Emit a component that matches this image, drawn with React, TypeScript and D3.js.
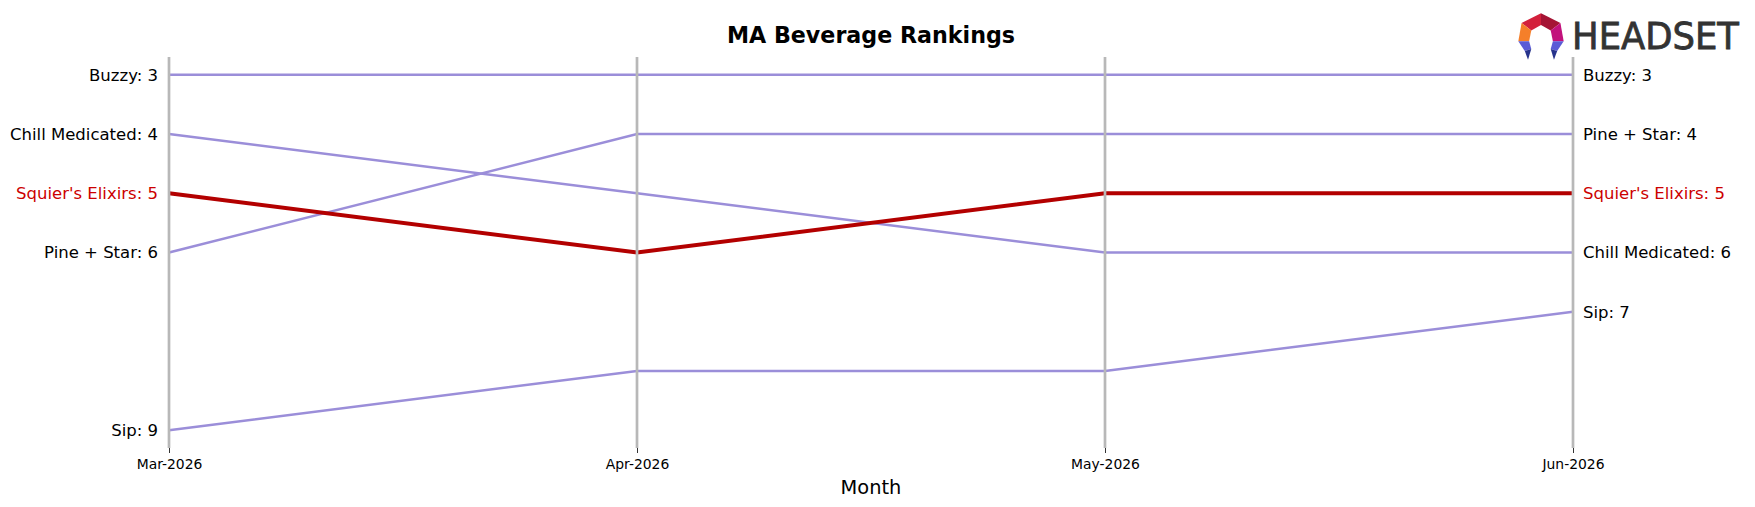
import React, { useEffect, useRef } from "react";
import * as d3 from "d3";

const months = ["Mar-2026", "Apr-2026", "May-2026", "Jun-2026"];
const brands = ["Buzzy", "Chill Medicated", "Squier's Elixirs", "Pine + Star", "Sip"];
const ranks = [
  [3, 3, 3, 3],
  [4, 5, 6, 6],
  [5, 6, 5, 5],
  [6, 4, 4, 4],
  [9, 8, 8, 7],
];
const highlight = "Squier's Elixirs";

const W = 1755;
const H = 507;
const FONT = "DejaVu Sans, sans-serif";

const App = () => {
  const ref = useRef<SVGSVGElement>(null);

  useEffect(() => {
    const svg = d3.select(ref.current);
    svg.selectAll("*").remove();

    const x = d3.scalePoint<string>().domain(months).range([169, 1573]);
    const y = d3.scaleLinear().domain([2.7, 9.3]).range([57, 448]);

    const series = brands.map((name, i) => ({ name, values: ranks[i] }));

    const line = d3
      .line<number>()
      .x((_, i) => x(months[i])!)
      .y((d) => y(d));

    // other brands first, highlighted one on top
    const ordered = [...series].sort(
      (a, b) => +(a.name === highlight) - +(b.name === highlight),
    );

    svg
      .append("g")
      .selectAll("path")
      .data(ordered)
      .join("path")
      .attr("d", (d) => line(d.values))
      .attr("fill", "none")
      .attr("stroke", (d) => (d.name === highlight ? "#b30000" : "#9b8ed9"))
      .attr("stroke-width", (d) => (d.name === highlight ? 4 : 2.5));

    // vertical month lines
    svg
      .append("g")
      .selectAll("line")
      .data(months)
      .join("line")
      .attr("x1", (d) => x(d)!)
      .attr("x2", (d) => x(d)!)
      .attr("y1", y.range()[0])
      .attr("y2", y.range()[1])
      .attr("stroke", "#b8b8b8")
      .attr("stroke-width", 2.7);

    // x axis ticks + labels
    const axis = svg.append("g").attr("transform", `translate(0,${y.range()[1]})`);
    axis
      .call(d3.axisBottom(x).tickSize(5).tickPadding(6))
      .call((g) => g.select(".domain").remove())
      .call((g) =>
        g.selectAll("text").attr("font-family", FONT).attr("font-size", 13.9).attr("fill", "#000"),
      )
      .call((g) => g.selectAll(".tick line").attr("stroke", "#000").attr("stroke-width", 0.8));

    // end labels
    const label = (side: number, anchor: string, dx: number) =>
      svg
        .append("g")
        .selectAll("text")
        .data(series)
        .join("text")
        .attr("x", x(months[side])! + dx)
        .attr("y", (d) => y(d.values[side]))
        .attr("dy", "0.36em")
        .attr("text-anchor", anchor)
        .attr("font-family", FONT)
        .attr("font-size", 16.5)
        .attr("fill", (d) => (d.name === highlight ? "#cc0000" : "#000"))
        .text((d) => `${d.name}: ${d.values[side]}`);
    label(0, "end", -11);
    label(months.length - 1, "start", 10);

    svg
      .append("text")
      .attr("x", 871)
      .attr("y", 43)
      .attr("text-anchor", "middle")
      .attr("font-family", FONT)
      .attr("font-weight", "bold")
      .attr("font-size", 22.2)
      .text("MA Beverage Rankings");

    svg
      .append("text")
      .attr("x", 871)
      .attr("y", 494)
      .attr("text-anchor", "middle")
      .attr("font-family", FONT)
      .attr("font-size", 19.4)
      .text("Month");

    // HEADSET logo
    const logo = svg.append("g").attr("transform", "translate(1541,37) scale(1.08)");
    const pieces: [string, number[][]][] = [
      ["#d3203c", [[0, -22], [-18, -13], [-9, -6], [0, -11]]],
      ["#a51434", [[0, -22], [18, -13], [9, -6], [0, -11]]],
      ["#f57f2a", [[-18, -13], [-21, 4], [-11, 4], [-9, -6]]],
      ["#c2127c", [[18, -13], [21, 4], [11, 4], [9, -6]]],
      ["#5b5bd6", [[-21, 4], [-11, 4], [-9, 11], [-15, 13]]],
      ["#5b5bd6", [[21, 4], [11, 4], [9, 11], [15, 13]]],
      ["#27338c", [[-15, 13], [-9, 11], [-12, 21]]],
      ["#27338c", [[15, 13], [9, 11], [12, 21]]],
    ];
    logo
      .selectAll("polygon")
      .data(pieces)
      .join("polygon")
      .attr("points", (d) => d[1].map((p) => p.join(",")).join(" "))
      .attr("fill", (d) => d[0]);

    svg
      .append("text")
      .attr("x", 1572)
      .attr("y", 49)
      .attr("font-family", FONT)
      .attr("font-size", 37)
      .attr("fill", "#333")
      .attr("stroke", "#333")
      .attr("stroke-width", 0.8)
      .attr("textLength", 167)
      .attr("lengthAdjust", "spacingAndGlyphs")
      .text("HEADSET");
  }, []);

  return (
    <svg
      ref={ref}
      width={W}
      height={H}
      style={{ position: "absolute", left: 0, top: 0, background: "#fff" }}
    />
  );
};

export default App;
